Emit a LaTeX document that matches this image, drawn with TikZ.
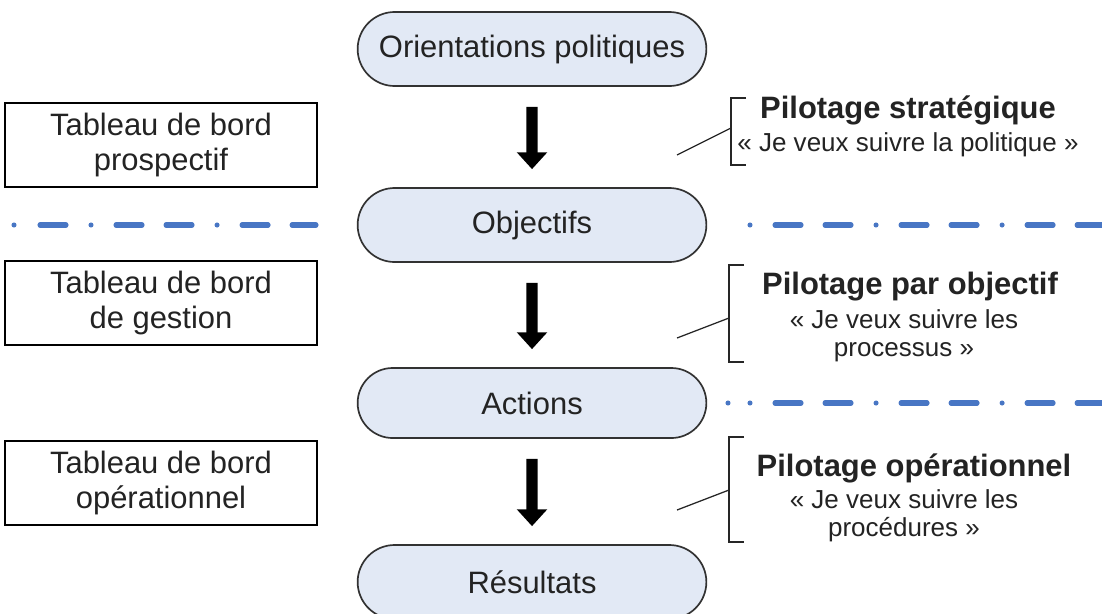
\documentclass[tikz,border=0pt]{standalone}
\usepackage{fontspec}
\setmainfont{Liberation Sans}
\usetikzlibrary{shapes.misc,arrows.meta,positioning}
\definecolor{pillfill}{RGB}{226,233,245}
\definecolor{pillline}{RGB}{50,50,50}
\definecolor{levelblue}{RGB}{72,118,196}
\definecolor{textgrey}{RGB}{35,35,35}

\begin{document}
\begin{tikzpicture}[
    x=0.025cm, y=-0.025cm,
    every node/.style={align=center, text=textgrey, font=\fontsize{22}{25}\selectfont},
    pill/.style={rounded rectangle, minimum width=8.95cm, minimum height=1.85cm, draw=pillline, fill=pillfill, line width=1.2pt},
    board/.style={rectangle, minimum width=7.8cm, minimum height=2.1cm, draw=black, line width=1.8pt},
    flow/.style={line width=8pt, -{Triangle[width=21pt,length=12pt]}, shorten <=0.5cm, shorten >=0.45cm},
    level/.style={levelblue, line width=3.6pt, line cap=round},
    bracket/.style={line width=0.9pt, draw=black!85},
    pilot/.style={font=\fontsize{22}{25}\selectfont\bfseries},
    quote/.style={font=\fontsize{18.5}{20}\selectfont}
]
\useasboundingbox (0,0) rectangle (1102,613);

% Main flow
\node[pill] (orient) at (532,49) {Orientations politiques};
\node[pill] (goals) at (532,225) {Objectifs};
\node[pill, minimum height=1.75cm] (actions) at (532,403) {Actions};
\node[pill] (results) at (532,582) {Résultats};

\draw[flow] (orient) -- (goals);
\draw[flow] (goals) -- (actions);
\draw[flow] (actions) -- (results);

% Dashboards
\node[board] (prosp) at (161,145) {Tableau de bord\\prospectif};
\node[board] (gestion) at (161,303) {Tableau de bord\\de gestion};
\node[board] (operat) at (161,483) {Tableau de bord\\opérationnel};

% Levels
\coordinate (lvlAw) at (14,225);
\coordinate (lvlAe) at (316,225);
\coordinate (lvlBw) at (750,225);
\coordinate (lvlBe) at (1110,225);
\coordinate (lvlCw) at (728,403);
\coordinate (lvlCe) at (1110,403);
\draw[level, dash pattern=on 0cm off 0.65cm on 0.65cm off 0.625cm on 0cm off 0.625cm on 0.65cm off 0.6cm on 0.65cm off 0.625cm on 0cm off 0.625cm on 0.65cm off 0.6cm on 0.65cm off 2cm] (lvlAw) -- (lvlAe);
\draw[level, dash pattern=on 0cm off 0.625cm on 0.65cm off 0.6cm on 0.65cm off 0.625cm] (lvlBw) -- (lvlBe);
\draw[level, dash pattern=on 0cm off 0.55cm on 0cm off 0.625cm on 0.65cm off 0.6cm on 0.65cm off 0.625cm on 0cm off 0.625cm on 0.65cm off 0.6cm on 0.65cm off 0.625cm on 0cm off 0.625cm on 0.65cm off 0.6cm on 0.65cm off 0.625cm] (lvlCw) -- (lvlCe);

% Piloting
\node[pilot] (strat) at (908,110) {Pilotage stratégique};
\node[quote] (stratq) at (908,145) {« Je veux suivre la politique »};
\node[pilot] (obj) at (910,287) {Pilotage par objectif};
\node[quote] (objq) at (904,336) {« Je veux suivre les\\processus »};
\node[pilot] (oper) at (914,468) {Pilotage opérationnel};
\node[quote] (operq) at (904,516) {« Je veux suivre les\\procédures »};

\coordinate (brA) at (731,128);
\coordinate (brB) at (729,318);
\coordinate (brC) at (729,490);
\coordinate (tipA) at (677,155);
\coordinate (tipB) at (677,338);
\coordinate (tipC) at (677,510);
\draw[bracket] (746,98) -| (731,165) -- (746,165);
\draw[bracket] (744,265) -| (729,362) -- (744,362);
\draw[bracket] (744,437) -| (729,542) -- (744,542);
\draw[bracket] (tipA) -- (brA);
\draw[bracket] (tipB) -- (brB);
\draw[bracket] (tipC) -- (brC);

\end{tikzpicture}
\end{document}
